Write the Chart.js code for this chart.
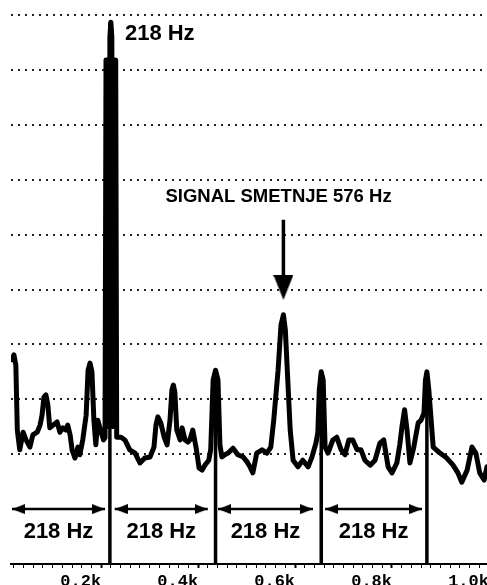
<!DOCTYPE html>
<html><head><meta charset="utf-8">
<script src="https://cdn.jsdelivr.net/npm/chart.js@4.4.1/dist/chart.umd.min.js"></script>
<style>html,body{margin:0;padding:0;background:#fff;overflow:hidden}#wrap{width:487px;height:585px;position:relative}</style>
</head><body><div id="wrap"><canvas id="c"></canvas></div>
<script>
// Spectrum trace (frequency in Hz, level in grid divisions)
const freqHz = [16,20,24,27,32,39,45,53,59,68,74,78,82,86,90,94,101,109,115,121,127,131,136,140,146,152,156,162,169,173,177,181,185,189,193,200,205,208,210,212,214,216,218,220,222,224,226,228,230,232,236,241,249,259,270,280,290,301,309,313,317,323,330,336,342,346,349,352,356,363,367,373,379,383,389,396,402,408,414,422,426,431,436,441,445,449,455,462,472,482,493,501,507,513,521,532,542,550,556,565,571,576,580,585,590,596,606,616,627,635,643,647,650,654,658,662,668,678,686,695,703,711,719,728,736,744,755,765,775,783,792,800,810,816,821,826,831,837,845,854,860,866,869,872,876,885,899,913,926,936,944,955,965,973,981,990,996];
const level = [3.72,3.81,3.62,2.44,2.08,2.40,2.26,2.13,2.35,2.40,2.53,2.71,3.04,3.08,2.90,2.48,2.53,2.59,2.40,2.48,2.44,2.53,2.35,2.08,1.93,2.13,1.99,2.26,2.71,3.53,3.66,3.50,2.62,2.17,2.62,2.40,2.26,2.30,9.18,2.50,9.18,2.50,9.60,9.87,9.60,2.50,9.18,2.50,9.18,2.31,2.31,2.31,2.26,2.08,2.02,1.84,1.93,1.95,2.13,2.53,2.68,2.57,2.31,2.17,2.62,3.17,3.26,3.13,2.44,2.26,2.48,2.26,2.22,2.26,2.44,2.11,1.75,1.71,1.80,1.89,2.08,3.35,3.53,3.35,2.17,1.95,1.99,2.02,2.11,1.99,1.95,1.86,1.77,1.66,2.02,2.08,2.02,2.13,2.62,3.53,4.35,4.54,4.26,3.35,2.44,1.89,1.77,1.89,1.77,1.95,2.20,2.39,3.17,3.50,3.35,2.13,2.02,2.26,2.31,2.08,1.99,2.26,2.26,2.08,2.08,1.89,1.80,1.89,2.20,2.26,1.77,1.66,1.84,2.17,2.53,2.81,2.44,1.84,2.13,2.57,2.62,2.75,3.35,3.50,3.17,2.13,2.02,1.93,1.80,1.66,1.49,1.71,2.13,2.02,1.66,1.53,1.77];

// Harmonic markers
const harmonicHz = [218, 436, 654, 872];
const harmonicLevel = [9.87, 3.53, 3.50, 3.50];

// Spacing arrows between harmonics
const spanStartHz = [16, 228, 441, 662];
const spanEndHz = [208, 420, 637, 862];
const spanLevel = 1.0;
const spanText = '218 Hz';
const spanTextLevel = 0.58;

// Interference arrow
const noiseHz = 576;
const noiseArrowTop = 6.27;
const noiseArrowTip = 4.81;
const noiseText = 'SIGNAL SMETNJE 576 Hz';
const noiseTextHz = 566;
const noiseTextLevel = 6.69;

const peakText = '218 Hz';
const peakTextHz = 249;
const peakTextLevel = 9.65;

// Axis ticks
const xMin = 14, xMax = 996, xStep = 20, xMajor = 200, xLastTick = 1000;
const yMin = 0, yMax = 10;

function arrowCanvas(dir){
  const c = document.createElement('canvas');
  const g = c.getContext('2d');
  if (dir === 'down') {
    c.width = 20; c.height = 50;
    g.beginPath(); g.moveTo(0,0); g.lineTo(20,0); g.lineTo(10,25); g.closePath();
  } else {
    c.width = 26; c.height = 10;
    g.beginPath();
    if (dir === 'right') { g.moveTo(0,0); g.lineTo(13,5); g.lineTo(0,10); }
    else { g.moveTo(26,0); g.lineTo(13,5); g.lineTo(26,10); }
    g.closePath();
  }
  g.fillStyle = '#000'; g.fill();
  return c;
}
const leftHead = arrowCanvas('left'), rightHead = arrowCanvas('right'), downHead = arrowCanvas('down');

const datasets = [];
datasets.push({
  data: freqHz.map((f,i)=>({x:f, y:level[i]})),
  borderColor:'#000', borderWidth:5, pointRadius:0, tension:0,
  borderJoinStyle:'round', borderCapStyle:'round'
});
harmonicHz.forEach((h,i)=>datasets.push({
  data:[{x:h,y:0},{x:h,y:harmonicLevel[i]}],
  borderColor:'#000', borderWidth:3.5, pointRadius:0
}));
spanStartHz.forEach((s,i)=>datasets.push({
  data:[{x:s,y:spanLevel},{x:spanEndHz[i],y:spanLevel}],
  borderColor:'#000', borderWidth:2.5, pointRadius:5,
  pointStyle:[leftHead, rightHead]
}));
datasets.push({
  data:[{x:noiseHz,y:noiseArrowTop},{x:noiseHz,y:noiseArrowTip+0.2}],
  borderColor:'#000', borderWidth:3.5, pointRadius:0
});
datasets.push({
  data:[{x:noiseHz,y:noiseArrowTip}],
  showLine:false, pointRadius:5, pointStyle:downHead
});

const textPlugin = {
  id:'texts',
  afterDatasetsDraw(chart){
    const {ctx, scales:{x, y}} = chart;
    ctx.save();
    ctx.fillStyle = '#000';
    ctx.textBaseline = 'middle';
    ctx.font = 'bold 22px "Liberation Sans", Arial, sans-serif';
    ctx.textAlign = 'left';
    ctx.fillText(peakText, x.getPixelForValue(peakTextHz), y.getPixelForValue(peakTextLevel));
    ctx.font = 'bold 18.5px "Liberation Sans", Arial, sans-serif';
    ctx.textAlign = 'center';
    ctx.fillText(noiseText, x.getPixelForValue(noiseTextHz), y.getPixelForValue(noiseTextLevel));
    ctx.font = 'bold 22px "Liberation Sans", Arial, sans-serif';
    spanStartHz.forEach((s,i)=>{
      const m = (s + spanEndHz[i]) / 2;
      ctx.fillText(spanText, x.getPixelForValue(m), y.getPixelForValue(spanTextLevel));
    });
    ctx.restore();
  }
};

new Chart(document.getElementById('c'), {
  type:'line',
  data:{datasets},
  options:{
    responsive:true, maintainAspectRatio:false, animation:false,
    layout:{autoPadding:false, padding:{left:11, top:15, right:0, bottom:0}},
    plugins:{legend:{display:false}, tooltip:{enabled:false}},
    scales:{
      x:{
        type:'linear', min:xMin, max:xMax,
        afterBuildTicks:(s)=>{ const t=[]; for(let v=xStep; v<xMax; v+=xStep) t.push({value:v}); t.push({value:xLastTick}); s.ticks=t; },
        afterFit:(s)=>{ s.height = 21; s.paddingLeft = 0; s.paddingRight = 0; },
        ticks:{
          autoSkip:false, maxRotation:0, align:'end', padding:10, color:'#000',
          font:{family:'"Liberation Mono", monospace', size:17, weight:'bold', lineHeight:'7px'},
          callback:(v)=> v % xMajor === 0 ? (v/1000).toFixed(1)+'k' : ''
        },
        grid:{drawOnChartArea:false, tickLength:4, tickColor:'#000',
          tickWidth:(c)=> (c.tick && c.tick.value % xMajor === 0) ? 2 : 1},
        border:{color:'#000', width:2}
      },
      y:{
        min:yMin, max:yMax,
        ticks:{display:false, stepSize:1},
        grid:{drawTicks:false, lineWidth:2,
          color:(c)=> (c.tick && c.tick.value >= 2) ? '#222' : 'rgba(0,0,0,0)'},
        border:{display:false, dash:[2,5]}
      }
    }
  },
  plugins:[textPlugin]
});
</script></body></html>
